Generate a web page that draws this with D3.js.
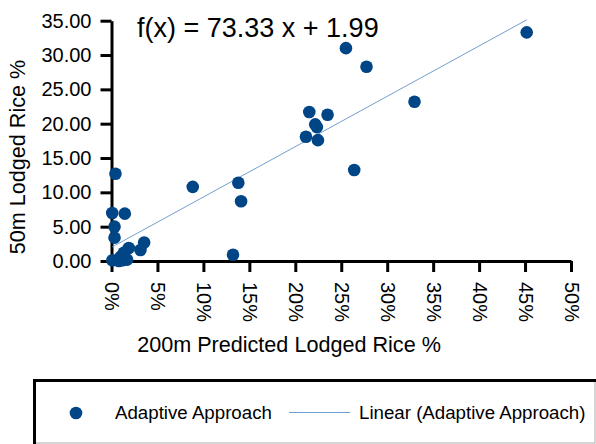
<!DOCTYPE html>
<html>
<head>
<meta charset="utf-8">
<script src="https://cdn.jsdelivr.net/npm/d3@7"></script>
<style>
body { margin: 0; background: #fff; }
text { font-family: "Liberation Sans", Arial, sans-serif; fill: #000; }
</style>
</head>
<body>
<script>
// predicted (200m) as fraction, observed (50m) in %
var predicted = [0.4518, 0.2551, 0.2775, 0.3297, 0.2152, 0.2351, 0.2217, 0.2235, 0.2116, 0.2246,
    0.2641, 0.0884, 0.138, 0.141, 0.1322, 0.0043, 0.0008, 0.0145, 0.0033, 0.0033,
    0.0355, 0.0315, 0.0188, 0.0134, 0.0098, 0.001, 0.008, 0.017, 0.012];
var observed = [33.3, 31.0, 28.3, 23.2, 21.7, 21.3, 19.9, 19.5, 18.1, 17.6,
    13.25, 10.8, 11.4, 8.7, 0.9, 12.7, 7.0, 6.9, 5.0, 3.4,
    2.7, 1.6, 1.9, 1.2, 0.6, 0.1, 0.0, 0.2, 0.1];
var xTicks = [0, 0.05, 0.1, 0.15, 0.2, 0.25, 0.3, 0.35, 0.4, 0.45, 0.5];
var yTicks = [0, 5, 10, 15, 20, 25, 30, 35];
var slope = 73.33, intercept = 1.99;

var svg = d3.select("body").append("svg").attr("width", 596).attr("height", 444);

var x = d3.scaleLinear().domain([0, 0.5]).range([111.5, 571]);
var y = d3.scaleLinear().domain([0, 35]).range([261, 20.7]);

var yAxis = svg.append("g").attr("transform", "translate(111.5,0)")
    .call(d3.axisLeft(y).tickValues(yTicks).tickSize(11).tickSizeOuter(0).tickPadding(9).tickFormat(d3.format(".2f")));
var xAxis = svg.append("g").attr("transform", "translate(0,261)")
    .call(d3.axisBottom(x).tickValues(xTicks).tickSize(11).tickSizeOuter(0).tickFormat(d3.format(".0%")));

[xAxis, yAxis].forEach(function (g) {
    g.selectAll("path, line").attr("stroke", "#000").attr("stroke-width", 3);
    g.selectAll("text").style("font-size", "20px").style("font-family", "Liberation Sans");
});
xAxis.selectAll("text")
    .attr("transform", "rotate(90)")
    .attr("x", 21).attr("y", 0).attr("dy", "0.35em")
    .attr("text-anchor", "start");

// trend line
var xmin = d3.min(predicted), xmax = d3.max(predicted);
svg.append("line")
    .attr("x1", x(xmin)).attr("y1", y(slope * xmin + intercept))
    .attr("x2", x(xmax)).attr("y2", y(slope * xmax + intercept))
    .attr("stroke", "#729fcf").attr("stroke-width", 1);

svg.selectAll("circle.pt")
    .data(predicted)
    .enter()
    .append("circle")
    .attr("class", "pt")
    .attr("cx", function (d) { return x(d); })
    .attr("cy", function (d, i) { return y(observed[i]); })
    .attr("r", 6.3)
    .attr("fill", "#004586");

svg.append("text").attr("x", 137).attr("y", 37)
    .style("font-size", "27px")
    .text("f(x) = " + slope.toFixed(2) + " x + " + intercept.toFixed(2));

// axis titles
svg.append("text").attr("x", 289).attr("y", 352)
    .attr("text-anchor", "middle").style("font-size", "21.6px")
    .text("200m Predicted Lodged Rice %");
svg.append("text").attr("transform", "translate(25,157) rotate(-90)")
    .attr("text-anchor", "middle").style("font-size", "21.6px")
    .text("50m Lodged Rice %");

// legend
var leg = svg.append("g");
leg.append("rect").attr("x", 34).attr("y", 380).attr("width", 561).attr("height", 63)
    .attr("fill", "#fff").attr("stroke", "#aaa").attr("stroke-width", 1);
leg.append("path").attr("d", "M34.5,444V380.5H596")
    .attr("fill", "none").attr("stroke", "#000").attr("stroke-width", 3);
leg.append("circle").attr("cx", 76).attr("cy", 413).attr("r", 6.3).attr("fill", "#004586");
leg.append("text").attr("x", 115).attr("y", 419).style("font-size", "18.7px").text("Adaptive Approach");
leg.append("line").attr("x1", 289).attr("x2", 350).attr("y1", 412.5).attr("y2", 412.5)
    .attr("stroke", "#729fcf").attr("stroke-width", 1);
leg.append("text").attr("x", 359).attr("y", 419).style("font-size", "18.7px").text("Linear (Adaptive Approach)");
</script>
</body>
</html>
